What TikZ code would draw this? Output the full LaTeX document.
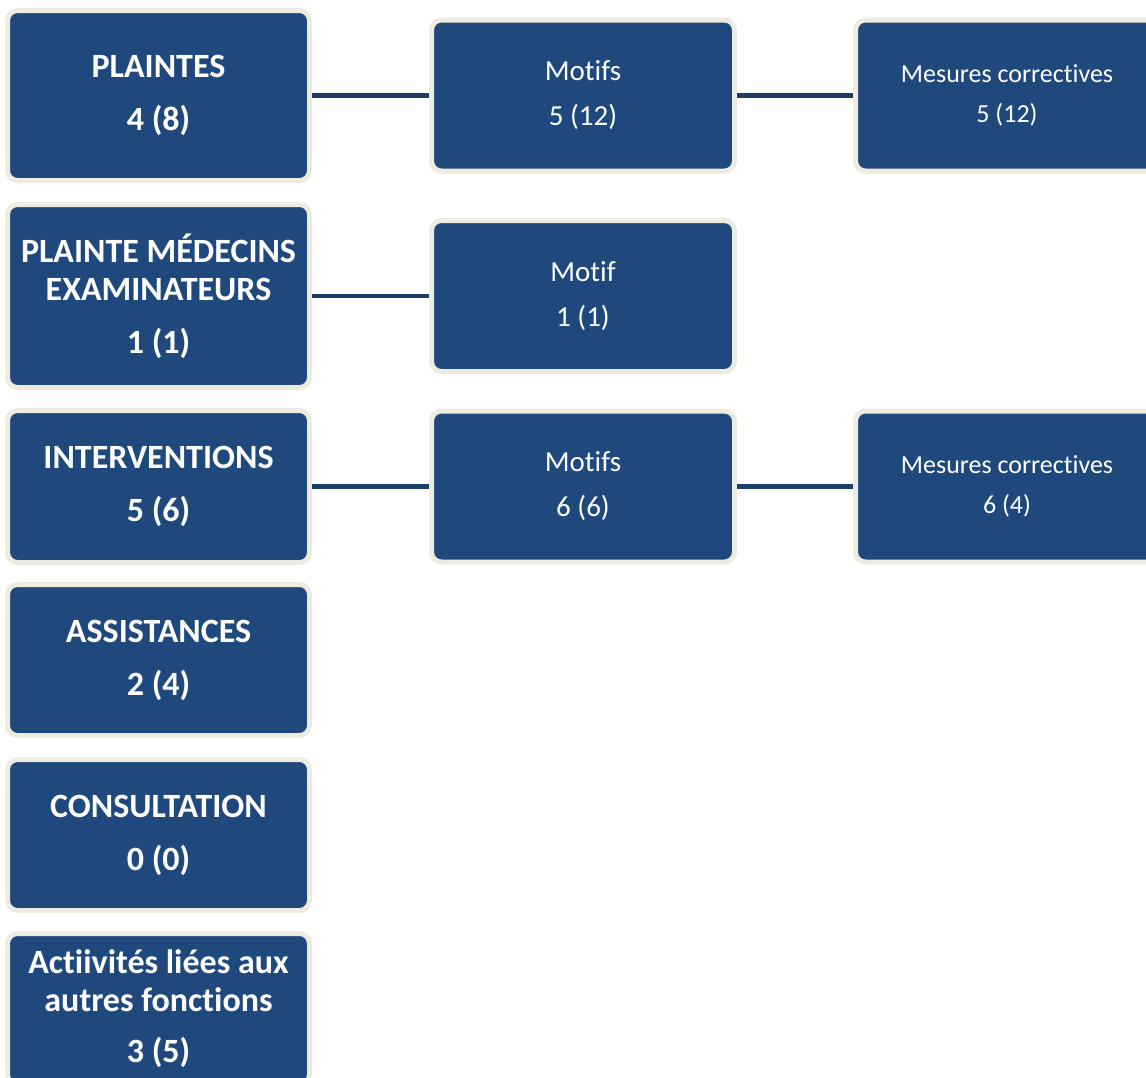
\documentclass[tikz,border=0pt]{standalone}
\usepackage{fontspec}
\setmainfont{Carlito}[Ligatures=NoCommon]
\usepackage{xcolor}
\usepackage{tikz}
\usetikzlibrary{positioning}
\definecolor{boxblue}{HTML}{1F497D}
\definecolor{boxrim}{HTML}{EEECE1}
\definecolor{linkblue}{HTML}{1A3D69}
\tikzstyle{mainbox}=[rectangle, rounded corners=10pt, draw=boxrim, fill=boxblue, line width=5pt, text=white, align=center, minimum width=302pt, minimum height=151pt, font=\bfseries\fontsize{34}{38}\selectfont]
\tikzstyle{subbox}=[mainbox, minimum width=303pt, font=\fontsize{29}{35}\selectfont]
\tikzstyle{fixbox}=[subbox, font=\fontsize{26}{32}\selectfont]
\tikzstyle{link}=[draw=linkblue, line width=4.5pt]

\begin{document}
\begin{tikzpicture}

\useasboundingbox (0,0) rectangle (1146pt,-1077pt);

% Left column
\node[mainbox, minimum height=170pt] (plaintes) at (158.5pt,-95.5pt) {PLAINTES\\[15pt]4 (8)};
\node[mainbox, minimum height=183pt, below=19pt of plaintes] (medecins) {PLAINTE MÉDECINS\\EXAMINATEURS\\[15pt]1 (1)};
\node[mainbox, minimum height=152pt, below=18pt of medecins] (interv) {INTERVENTIONS\\[15pt]5 (6)};
\node[mainbox, below=17pt of interv] (assist) {ASSISTANCES\\[15pt]2 (4)};
\node[mainbox, below=19pt of assist] (consult) {CONSULTATION\\[15pt]0 (0)};
\node[mainbox, below=18pt of consult] (activ) {Actiivités liées aux\\autres fonctions\\[13pt]3 (5)};

% Motifs and corrective measures
\node[subbox, right=117pt of plaintes] (motifs1) {Motifs\\[10pt]5 (12)};
\node[subbox, right=117pt of medecins] (motifs2) {Motif\\[10pt]1 (1)};
\node[subbox, right=117pt of interv] (motifs3) {Motifs\\[10pt]6 (6)};
\node[fixbox, right=116pt of motifs1] (mesures1) {Mesures correctives\\[8pt]5 (12)};
\node[fixbox, right=116pt of motifs3] (mesures3) {Mesures correctives\\[8pt]6 (4)};

% Connectors
\draw[link] (plaintes) -- (motifs1); % plaintes -> motifs
\draw[link] (motifs1) -- (mesures1); % motifs -> mesures
\draw[link] (medecins) -- (motifs2); % medecins -> motif
\draw[link] (interv) -- (motifs3); % interventions -> motifs
\draw[link] (motifs3) -- (mesures3); % motifs -> mesures

\end{tikzpicture}
\end{document}
